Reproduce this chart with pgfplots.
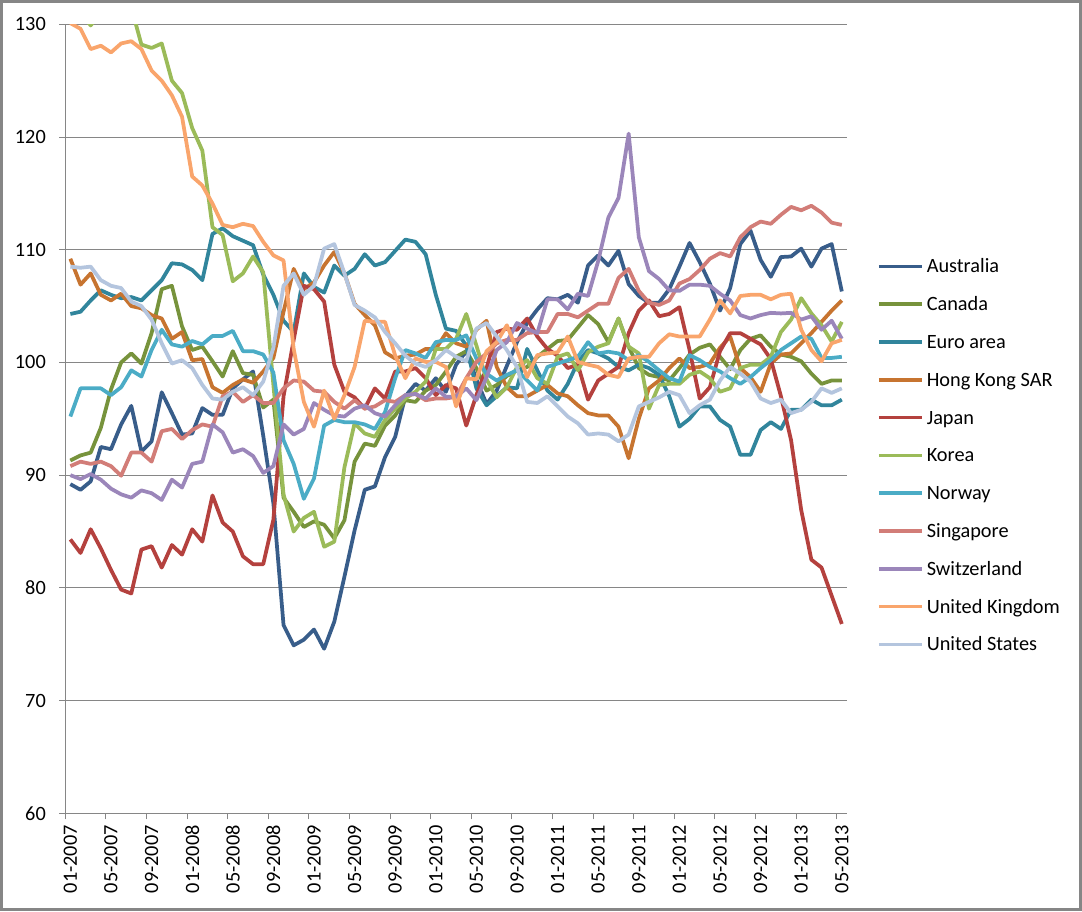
\documentclass[border=0pt]{standalone}
\usepackage{fontspec}
\setmainfont{Carlito}
\usepackage{pgfplots}
\usepackage{pgfplotstable}
\pgfplotsset{compat=1.18}
\definecolor{gridc}{HTML}{868686}
\definecolor{cAus}{HTML}{385D8A}
\definecolor{cCan}{HTML}{77933C}
\definecolor{cEur}{HTML}{31859C}
\definecolor{cHK}{HTML}{C77430}
\definecolor{cJap}{HTML}{B4413E}
\definecolor{cKor}{HTML}{9BBB59}
\definecolor{cNor}{HTML}{4BACC6}
\definecolor{cSin}{HTML}{D27D78}
\definecolor{cSwi}{HTML}{9B86BA}
\definecolor{cUK}{HTML}{F9A56C}
\definecolor{cUS}{HTML}{B4C5DE}
\pgfplotstableread{
i Aus Can Eur HK Jap Kor Nor Sin Swi UK US
0 89.2 91.3 104.3 109.2 84.3 132 95.2 90.8 90.0 130.1 108.5
1 88.7 91.75 104.5 106.9 83.1 131 97.7 91.2 89.65 129.6 108.4
2 89.45 92.0 105.5 107.9 85.2 129.9 97.7 91.0 90.1 127.8 108.5
3 92.5 94.2 106.4 106.0 83.5 131 97.7 91.2 89.6 128.1 107.3
4 92.3 97.6 106.0 105.5 81.6 132 97.1 90.8 88.8 127.5 106.8
5 94.5 100.0 105.7 106.1 79.85 132.5 97.8 89.95 88.3 128.3 106.6
6 96.15 100.8 105.8 105.0 79.5 131.5 99.3 92.0 88.0 128.5 105.4
7 92.1 99.9 105.5 104.8 83.4 128.2 98.75 92.0 88.65 127.8 105.0
8 93.0 102.6 106.4 104.2 83.7 127.9 101.1 91.2 88.4 125.9 103.8
9 97.35 106.5 107.3 103.9 81.8 128.3 102.9 93.9 87.8 125.0 101.7
10 95.5 106.8 108.8 102.1 83.8 125.0 101.6 94.1 89.6 123.7 99.9
11 93.6 103.2 108.7 102.7 82.95 123.9 101.4 93.2 88.9 121.8 100.2
12 93.7 101.1 108.2 100.2 85.2 120.8 101.9 94.0 91.0 116.5 99.5
13 95.95 101.4 107.3 100.3 84.1 118.8 101.6 94.5 91.2 115.7 98.0
14 95.35 100.1 111.4 97.8 88.2 112.0 102.35 94.3 94.5 114.1 96.8
15 95.35 98.75 111.9 97.3 85.8 111.3 102.35 97.0 93.8 112.2 96.7
16 97.7 101.0 111.2 98.0 85.0 107.2 102.8 97.4 92.0 112.0 97.4
17 98.5 99.05 110.8 98.5 82.8 107.9 101.0 96.5 92.3 112.3 97.8
18 99.2 98.9 110.4 98.2 82.1 109.4 101.0 97.1 91.7 112.1 97.1
19 93.5 96.0 107.8 99.2 82.1 108.0 100.7 96.4 90.2 110.7 98.3
20 87.5 96.7 106.0 100.4 86.05 98.0 99.1 96.4 90.8 109.5 101.3
21 76.7 88.0 103.7 104.5 97.0 88.3 93.1 97.7 94.5 109.05 106.8
22 74.9 86.75 102.7 108.3 102.0 85.0 91.0 98.4 93.6 101.2 107.9
23 75.4 85.4 107.9 106.5 106.8 86.2 87.9 98.3 94.1 96.5 106.0
24 76.3 85.9 106.7 107.1 106.5 86.75 89.7 97.5 96.4 94.3 106.8
25 74.6 85.6 106.2 108.6 105.4 83.65 94.4 97.4 95.8 97.5 110.1
26 77.0 84.4 108.6 109.8 99.8 84.1 94.9 96.5 95.3 95.0 110.5
27 81.0 86.0 107.7 107.9 97.4 90.7 94.7 95.9 95.2 97.1 107.9
28 85.1 91.2 108.3 105.2 96.9 94.6 94.7 96.65 95.9 99.6 105.1
29 88.7 92.8 109.6 104.2 95.9 93.7 94.5 95.9 96.2 103.7 104.6
30 89.0 92.6 108.6 103.3 97.7 93.4 94.1 96.1 95.5 103.6 104.0
31 91.6 94.4 108.9 100.9 96.8 94.9 95.6 96.65 95.2 103.6 102.7
32 93.4 95.3 109.9 100.35 99.2 95.9 98.6 96.5 96.2 100.6 101.7
33 97.0 96.65 110.9 100.6 99.2 96.8 101.1 97.1 97.1 98.6 100.6
34 98.1 96.5 110.7 100.7 99.5 97.4 100.8 97.2 97.2 100.35 99.9
35 97.5 97.5 109.6 101.2 98.6 98.3 100.4 96.65 96.8 100.05 99.6
36 98.6 98.0 106.0 101.2 97.1 101.2 101.8 96.8 97.7 100.05 100.2
37 97.4 99.2 103.0 102.6 98.0 101.2 102.0 96.8 96.95 99.6 101.1
38 99.8 100.5 102.8 101.7 97.7 102.1 102.0 96.95 96.95 96.1 100.5
39 101.0 101.0 101.5 101.4 94.4 104.3 102.4 98.6 97.7 98.6 100.1
40 98.5 99.5 97.7 102.9 97.1 101.5 100.35 100.05 96.65 98.5 103.0
41 96.3 97.5 96.2 103.7 99.5 98.5 99.0 100.8 98.7 101.0 103.5
42 97.5 98.0 97.0 99.6 102.7 96.9 98.4 101.7 101.1 101.8 102.3
43 99.7 98.8 97.8 97.8 103.0 97.8 98.9 102.0 101.8 103.3 101.1
44 101.8 99.3 97.7 97.0 102.9 99.6 99.3 102.0 103.5 101.1 99.6
45 103.5 99.6 101.2 97.0 103.9 100.2 98.4 102.6 103.0 98.7 96.5
46 104.7 100.5 99.3 97.5 102.3 98.6 97.5 102.7 102.6 100.65 96.4
47 105.7 101.2 97.5 98.0 101.2 98.1 99.6 102.7 105.6 100.8 97.0
48 105.6 101.9 96.7 97.25 100.6 100.5 99.9 104.3 105.6 100.9 96.1
49 106.0 102.0 98.1 97.0 99.5 100.8 100.2 104.3 104.7 102.3 95.2
50 105.3 103.1 100.05 96.2 99.8 99.3 100.5 104.0 106.1 100.05 94.6
51 108.6 104.2 101.1 95.5 96.7 100.9 101.8 104.6 105.9 99.8 93.6
52 109.5 103.4 100.8 95.3 98.4 101.4 100.8 105.2 109.0 99.6 93.7
53 108.6 101.8 100.35 95.3 99.0 101.7 100.95 105.2 112.85 98.9 93.6
54 109.9 103.9 99.6 94.3 99.6 103.9 100.8 107.5 114.6 98.7 93.0
55 106.95 101.4 99.3 91.5 102.6 101.4 100.2 108.3 120.3 100.35 93.6
56 105.9 99.5 99.8 95.0 104.6 100.8 100.65 106.35 111.1 100.5 96.1
57 105.3 98.9 99.5 97.7 105.5 95.9 100.05 105.3 108.1 100.5 96.5
58 105.3 98.7 98.9 98.4 104.1 98.0 99.3 105.1 107.4 101.7 96.9
59 106.5 98.4 97.0 99.5 104.3 98.1 98.6 105.5 106.4 102.5 97.4
60 108.5 99.5 94.3 100.35 104.9 98.1 98.3 107.0 106.35 102.3 97.1
61 110.6 100.7 95.0 99.5 101.1 98.9 100.65 107.4 106.9 102.3 95.5
62 108.9 101.3 96.1 99.6 96.8 99.2 100.2 108.2 106.9 102.3 96.2
63 107.0 101.6 96.1 99.9 97.8 98.6 99.6 109.2 106.8 103.8 96.7
64 104.6 100.5 94.9 101.3 101.0 97.4 99.2 109.7 106.1 105.5 98.4
65 106.6 99.4 94.3 102.3 102.6 97.7 98.6 109.4 105.5 104.35 99.6
66 110.5 101.1 91.8 99.5 102.6 99.5 98.1 111.1 104.2 105.9 99.0
67 111.7 102.1 91.8 98.7 102.1 99.8 98.7 112.0 103.9 106.0 98.3
68 109.1 102.4 94.0 97.4 101.6 99.8 99.5 112.5 104.2 106.0 96.8
69 107.6 101.4 94.7 99.9 100.3 100.5 100.2 112.3 104.4 105.6 96.4
70 109.35 100.7 94.1 100.7 97.0 102.7 101.1 113.1 104.35 106.0 96.7
71 109.4 100.5 95.8 100.8 93.1 103.8 101.7 113.8 104.4 106.1 95.5
72 110.1 100.1 95.8 101.7 86.9 105.7 102.3 113.5 103.8 102.9 95.8
73 108.5 99.0 96.7 102.6 82.5 104.35 102.1 113.9 104.1 101.1 96.5
74 110.1 98.1 96.2 103.6 81.8 103.3 100.4 113.3 102.9 100.1 97.7
75 110.5 98.4 96.2 104.6 79.3 101.85 100.4 112.4 103.7 101.7 97.3
76 106.3 98.4 96.7 105.5 76.8 103.6 100.5 112.2 102.1 102.0 97.7
}\data
\begin{document}
\begin{tikzpicture}[x=1pt,y=1pt]
\useasboundingbox (0,0) rectangle (1082,911);
\draw[line width=2.6pt, color=gridc] (1.3,1.3) rectangle (1080.7,909.7);
\begin{axis}[
  at={(65.3pt,97.7pt)}, anchor=south west,
  scale only axis, width=781.6pt, height=789pt,
  xmin=-0.5, xmax=76.5, ymin=60, ymax=130,
  axis lines=left,
  axis line style={-, draw=gridc, line width=1pt},
  ytick={60,70,...,130},
  ymajorgrids,
  major grid style={draw=gridc, line width=1pt},
  tick style={draw=gridc, line width=1pt},
  tick align=outside,
  major tick length=6pt,
  xtick={-0.5,3.5,...,75.5},
  xticklabels={},
  extra x ticks={0,4,...,76},
  extra x tick labels={01-2007,05-2007,09-2007,01-2008,05-2008,09-2008,01-2009,05-2009,09-2009,01-2010,05-2010,09-2010,01-2011,05-2011,09-2011,01-2012,05-2012,09-2012,01-2013,05-2013},
  extra x tick style={major tick length=0pt},
  xticklabel style={rotate=90, anchor=east, inner sep=0pt, xshift=-11.7pt, font=\fontsize{20.3}{24}\selectfont},
  yticklabel style={anchor=east, inner sep=0pt, xshift=-13.3pt, font=\fontsize{20.3}{24}\selectfont},
  /pgf/number format/assume math mode=true,
  legend style={at={(axis description cs:1.0385,0.7042)}, anchor=north west, draw=none, fill=none, inner sep=0pt, row sep=20.8pt, font=\fontsize{20.3}{24}\selectfont, nodes={inner sep=0pt, text height=15pt, text depth=2pt}, /tikz/every odd column/.append style={column sep=3pt}},
  legend cell align=left,
  legend image code/.code={\draw[#1, line width=3.6pt] (0pt,0pt) -- (43pt,0pt);},
  every axis plot/.append style={line width=3.75pt, line join=round, no marks},
]
\addplot[cAus] table[x=i,y=Aus]{\data};
\addlegendentry{Australia}
\addplot[cCan] table[x=i,y=Can]{\data};
\addlegendentry{Canada}
\addplot[cEur] table[x=i,y=Eur]{\data};
\addlegendentry{Euro area}
\addplot[cHK] table[x=i,y=HK]{\data};
\addlegendentry{Hong Kong SAR}
\addplot[cJap] table[x=i,y=Jap]{\data};
\addlegendentry{Japan}
\addplot[cKor] table[x=i,y=Kor]{\data};
\addlegendentry{Korea}
\addplot[cNor] table[x=i,y=Nor]{\data};
\addlegendentry{Norway}
\addplot[cSin] table[x=i,y=Sin]{\data};
\addlegendentry{Singapore}
\addplot[cSwi] table[x=i,y=Swi]{\data};
\addlegendentry{Switzerland}
\addplot[cUK] table[x=i,y=UK]{\data};
\addlegendentry{United Kingdom}
\addplot[cUS] table[x=i,y=US]{\data};
\addlegendentry{United States}
\end{axis}
\end{tikzpicture}
\end{document}
